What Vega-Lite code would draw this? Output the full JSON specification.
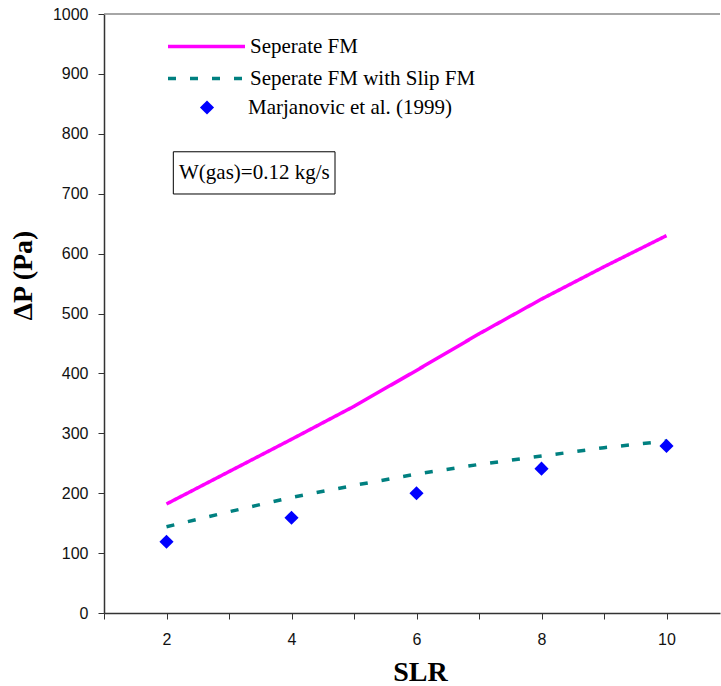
{
  "$schema": "https://vega.github.io/schema/vega-lite/v6.json",
  "width": 616,
  "height": 599,
  "autosize": {"type": "none"},
  "padding": {"left": 104, "top": 14, "right": 1, "bottom": 73},
  "background": "white",
  "config": {
    "view": {"stroke": null},
    "axisX": {
      "grid": false, "tickSize": 6, "labelPadding": 12,
      "labelFont": "Liberation Sans", "labelFontSize": 16, "labelColor": "#111111",
      "domainColor": "#333333", "tickColor": "#333333", "domainWidth": 1.5,
      "titleFont": "Liberation Serif", "titleFontSize": 28, "titleFontWeight": "bold", "titleColor": "#000000",
      "titleX": 316, "titleY": 67, "titleBaseline": "alphabetic"
    },
    "axisY": {
      "grid": false, "tickSize": 6, "labelPadding": 10,
      "labelFont": "Liberation Sans", "labelFontSize": 16, "labelColor": "#111111",
      "domainColor": "#333333", "tickColor": "#333333", "domainWidth": 1.5,
      "titleFont": "Liberation Serif", "titleFontSize": 28, "titleFontWeight": "bold", "titleColor": "#000000",
      "titleX": -73, "titleY": 261, "titleBaseline": "alphabetic", "titleAngle": -90
    }
  },
  "datasets": {
    "lines": [
      {"slr": 2, "dp": 182, "series": "Seperate FM"},
      {"slr": 3, "dp": 236, "series": "Seperate FM"},
      {"slr": 4, "dp": 290, "series": "Seperate FM"},
      {"slr": 5, "dp": 345, "series": "Seperate FM"},
      {"slr": 6, "dp": 405, "series": "Seperate FM"},
      {"slr": 7, "dp": 466, "series": "Seperate FM"},
      {"slr": 8, "dp": 524, "series": "Seperate FM"},
      {"slr": 9, "dp": 578, "series": "Seperate FM"},
      {"slr": 10, "dp": 630, "series": "Seperate FM"},
      {"slr": 2, "dp": 144, "series": "Seperate FM with Slip FM"},
      {"slr": 3, "dp": 169, "series": "Seperate FM with Slip FM"},
      {"slr": 4, "dp": 193, "series": "Seperate FM with Slip FM"},
      {"slr": 5, "dp": 213, "series": "Seperate FM with Slip FM"},
      {"slr": 6, "dp": 232, "series": "Seperate FM with Slip FM"},
      {"slr": 7, "dp": 248, "series": "Seperate FM with Slip FM"},
      {"slr": 8, "dp": 262, "series": "Seperate FM with Slip FM"},
      {"slr": 9, "dp": 276, "series": "Seperate FM with Slip FM"},
      {"slr": 10, "dp": 287, "series": "Seperate FM with Slip FM"}
    ],
    "points": [
      {"slr": 2, "dp": 119, "source": "Marjanovic et al. (1999)"},
      {"slr": 4, "dp": 159, "source": "Marjanovic et al. (1999)"},
      {"slr": 6, "dp": 200, "source": "Marjanovic et al. (1999)"},
      {"slr": 8, "dp": 241, "source": "Marjanovic et al. (1999)"},
      {"slr": 10, "dp": 279, "source": "Marjanovic et al. (1999)"}
    ],
    "note": [
      {"slr": 2.109, "slr2": 4.696, "dp": 770, "dp2": 699.5, "tx": 2.2, "ty": 735, "label": "W(gas)=0.12 kg/s"}
    ],
    "top": [{"dp": 1000}]
  },
  "layer": [
    {
      "data": {"name": "top"},
      "mark": {"type": "rule", "color": "#888888", "strokeWidth": 1.5},
      "encoding": {
        "y": {"field": "dp", "type": "quantitative", "title": "ΔP (Pa)", "scale": {"domain": [0, 1000], "nice": false},
              "axis": {"values": [0, 100, 200, 300, 400, 500, 600, 700, 800, 900, 1000], "format": "d"}}
      }
    },
    {
      "data": {"name": "note"},
      "mark": {"type": "rect", "fill": "white", "stroke": "#000000", "strokeWidth": 1},
      "encoding": {
        "x": {"field": "slr", "type": "quantitative", "title": "SLR", "scale": {"domain": [1, 10.856], "nice": false, "zero": false},
              "axis": {"values": [1, 2, 3, 4, 5, 6, 7, 8, 9, 10], "labelExpr": "datum.value % 2 == 0 ? datum.label : ''"}},
        "x2": {"field": "slr2"},
        "y": {"field": "dp", "type": "quantitative", "title": "ΔP (Pa)", "scale": {"domain": [0, 1000], "nice": false},
              "axis": {"values": [0, 100, 200, 300, 400, 500, 600, 700, 800, 900, 1000], "format": "d"}},
        "y2": {"field": "dp2"}
      }
    },
    {
      "data": {"name": "note"},
      "mark": {"type": "text", "font": "Liberation Serif", "fontSize": 21, "align": "left", "baseline": "middle", "color": "#000000"},
      "encoding": {
        "x": {"field": "tx", "type": "quantitative", "title": "SLR", "scale": {"domain": [1, 10.856], "nice": false, "zero": false},
              "axis": {"values": [1, 2, 3, 4, 5, 6, 7, 8, 9, 10], "labelExpr": "datum.value % 2 == 0 ? datum.label : ''"}},
        "y": {"field": "ty", "type": "quantitative", "title": "ΔP (Pa)", "scale": {"domain": [0, 1000], "nice": false},
              "axis": {"values": [0, 100, 200, 300, 400, 500, 600, 700, 800, 900, 1000], "format": "d"}},
        "text": {"field": "label"}
      }
    },
    {
      "data": {"name": "lines"},
      "mark": {"type": "line", "strokeWidth": 3.5, "strokeCap": "butt"},
      "encoding": {
        "x": {"field": "slr", "type": "quantitative", "title": "SLR", "scale": {"domain": [1, 10.856], "nice": false, "zero": false},
              "axis": {"values": [1, 2, 3, 4, 5, 6, 7, 8, 9, 10], "labelExpr": "datum.value % 2 == 0 ? datum.label : ''"}},
        "y": {"field": "dp", "type": "quantitative", "title": "ΔP (Pa)", "scale": {"domain": [0, 1000], "nice": false},
              "axis": {"values": [0, 100, 200, 300, 400, 500, 600, 700, 800, 900, 1000], "format": "d"}},
        "color": {
          "field": "series", "type": "nominal",
          "scale": {"domain": ["Seperate FM", "Seperate FM with Slip FM"], "range": ["#FF00FF", "#008080"]},
          "legend": {
            "title": null, "orient": "none", "legendX": 92, "legendY": 22, "padding": 0,
            "symbolType": "M-7.7,0H7.7", "symbolSize": 100, "symbolStrokeWidth": 3.5,
            "labelFont": "Liberation Serif", "labelFontSize": 21, "labelColor": "#000000", "labelLimit": 500,
            "labelOffset": 33, "rowPadding": 10
          }
        },
        "strokeDash": {
          "field": "series", "type": "nominal",
          "scale": {"domain": ["Seperate FM", "Seperate FM with Slip FM"], "range": [[1, 0], [8, 14]]},
          "legend": {
            "title": null, "orient": "none", "legendX": 92, "legendY": 22, "padding": 0,
            "symbolType": "M-7.7,0H7.7", "symbolSize": 100, "symbolStrokeWidth": 3.5,
            "labelFont": "Liberation Serif", "labelFontSize": 21, "labelColor": "#000000", "labelLimit": 500,
            "labelOffset": 33, "rowPadding": 10
          }
        }
      }
    },
    {
      "data": {"name": "points"},
      "mark": {"type": "point", "shape": "diamond", "filled": true, "size": 200, "color": "#0000FF", "opacity": 1},
      "encoding": {
        "x": {"field": "slr", "type": "quantitative", "title": "SLR", "scale": {"domain": [1, 10.856], "nice": false, "zero": false},
              "axis": {"values": [1, 2, 3, 4, 5, 6, 7, 8, 9, 10], "labelExpr": "datum.value % 2 == 0 ? datum.label : ''"}},
        "y": {"field": "dp", "type": "quantitative", "title": "ΔP (Pa)", "scale": {"domain": [0, 1000], "nice": false},
              "axis": {"values": [0, 100, 200, 300, 400, 500, 600, 700, 800, 900, 1000], "format": "d"}},
        "shape": {
          "field": "source", "type": "nominal",
          "scale": {"domain": ["Marjanovic et al. (1999)"], "range": ["diamond"]},
          "legend": {
            "title": null, "orient": "none", "legendX": 92.5, "legendY": 83, "padding": 0,
            "symbolSize": 200, "symbolFillColor": "#0000FF", "symbolStrokeWidth": 0, "symbolOpacity": 1,
            "labelFont": "Liberation Serif", "labelFontSize": 21, "labelColor": "#000000", "labelLimit": 500,
            "labelOffset": 30.5
          }
        }
      }
    }
  ]
}
